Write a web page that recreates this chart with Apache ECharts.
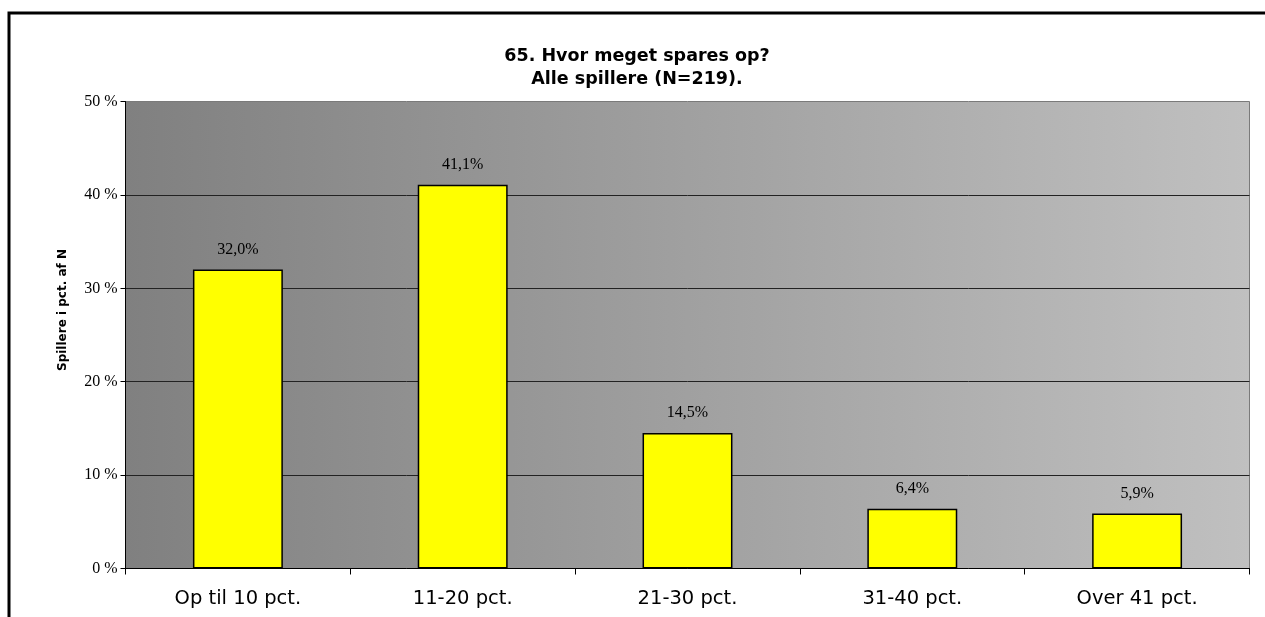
<!DOCTYPE html>
<html>
<head>
<meta charset="utf-8">
<script src="https://cdn.jsdelivr.net/npm/echarts@6/dist/echarts.min.js"></script>
<style>
  html, body { margin: 0; padding: 0; background: #fff; }
  #main { width: 1265px; height: 617px; }
</style>
</head>
<body>
<div id="main"></div>
<script>
var categories = ['Op til 10 pct.', '11-20 pct.', '21-30 pct.', '31-40 pct.', 'Over 41 pct.'];
var values = [32.0, 41.1, 14.5, 6.4, 5.9];
var yTicks = [0, 10, 20, 30, 40, 50];

var myChart = echarts.init(document.getElementById('main'));

var option = {
    animation: false,
    title: {
        text: '65. Hvor meget spares op?\nAlle spillere (N=219).',
        left: 632,
        top: 40,
        textAlign: 'center',
        textStyle: {
            fontFamily: 'DejaVu Sans',
            fontWeight: 'bold',
            fontSize: 17.5,
            lineHeight: 23,
            color: '#000'
        }
    },
    graphic: [
        {
            type: 'rect',
            shape: { x: 9, y: 13, width: 1400, height: 800 },
            style: { fill: null, stroke: '#000', lineWidth: 3 },
            z: 100
        },
        {
            type: 'text',
            x: 63,
            y: 310,
            rotation: Math.PI / 2,
            style: {
                text: 'Spillere i pct. af N',
                font: 'bold 12px "DejaVu Sans"',
                fill: '#000',
                textAlign: 'center',
                textVerticalAlign: 'middle'
            }
        }
    ],
    grid: {
        left: 125.5,
        right: 15.5,
        top: 101.5,
        bottom: 48.5,
        show: true,
        borderColor: '#7a7a7a',
        borderWidth: 1,
        backgroundColor: new echarts.graphic.LinearGradient(0, 0, 1, 0, [
            { offset: 0, color: '#808080' },
            { offset: 1, color: '#c0c0c0' }
        ])
    },
    xAxis: {
        type: 'category',
        data: categories,
        axisLine: { lineStyle: { color: '#000', width: 1 } },
        axisTick: { show: true, length: 6, lineStyle: { color: '#000' } },
        axisLabel: {
            fontFamily: 'DejaVu Sans',
            fontSize: 19.5,
            color: '#000',
            margin: 20
        }
    },
    yAxis: {
        type: 'value',
        min: 0,
        max: 50,
        interval: 10,
        axisLine: { show: true, lineStyle: { color: '#000', width: 1 } },
        axisTick: { show: true, length: 5, lineStyle: { color: '#000' } },
        axisLabel: {
            fontFamily: 'Liberation Serif',
            fontSize: 16,
            color: '#000',
            margin: 8,
            formatter: function (v) { return yTicks.indexOf(v) >= 0 ? v + ' %' : ''; }
        },
        splitLine: {
            show: true,
            showMinLine: false,
            showMaxLine: false,
            lineStyle: { color: '#222', width: 1 }
        }
    },
    series: [
        {
            type: 'bar',
            data: values,
            barWidth: '40%',
            itemStyle: {
                color: '#ffff00',
                borderColor: '#000',
                borderWidth: 1.5
            },
            label: {
                show: true,
                position: 'top',
                distance: 12,
                fontFamily: 'Liberation Serif',
                fontSize: 16,
                color: '#000',
                formatter: function (p) { return p.value.toFixed(1).replace('.', ',') + '%'; }
            }
        }
    ]
};

myChart.setOption(option);
</script>
</body>
</html>
